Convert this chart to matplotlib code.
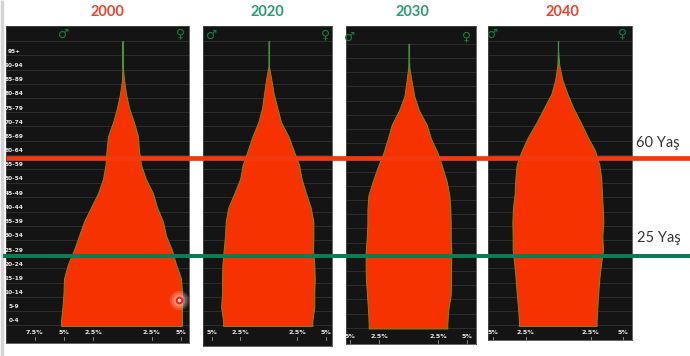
import numpy as np
import matplotlib
matplotlib.use("Agg")
import matplotlib.pyplot as plt

W, H = 690, 356

age_labels = ["0-4", "5-9", "10-14", "15-19", "20-24", "25-29", "30-34", "35-39", "40-44", "45-49",
              "50-54", "55-59", "60-64", "65-69", "70-74", "75-79", "80-84", "85-89", "90-94", "95+"]

male_2000 = [5.26, 5.13, 5.04, 5.00, 4.66, 4.15, 3.72, 3.29, 2.69, 2.09,
             1.67, 1.45, 1.37, 1.24, 0.81, 0.47, 0.21, 0.04, 0.01, 0.01]
female_2000 = [5.09, 5.09, 5.09, 5.00, 4.57, 4.23, 3.72, 3.46, 2.95, 2.60,
               2.00, 1.58, 1.41, 1.32, 0.98, 0.56, 0.30, 0.13, 0.01, 0.01]
male_2020 = [4.00, 4.18, 4.09, 4.09, 4.06, 3.95, 3.83, 3.77, 3.54, 3.01,
             2.51, 2.28, 1.84, 1.43, 0.91, 0.58, 0.41, 0.23, 0.01, 0.01]
female_2020 = [3.83, 4.00, 4.00, 4.04, 4.00, 3.89, 3.92, 3.92, 3.68, 3.27,
               2.89, 2.66, 2.19, 1.73, 1.08, 0.76, 0.44, 0.23, 0.01, 0.01]
male_2030 = [3.42, 3.48, 3.56, 3.65, 3.68, 3.68, 3.59, 3.53, 3.53, 3.45,
             3.08, 2.65, 2.17, 1.79, 1.45, 0.83, 0.37, 0.20, 0.04, 0.01]
female_2030 = [3.30, 3.39, 3.59, 3.62, 3.62, 3.65, 3.59, 3.59, 3.56, 3.48,
               3.25, 2.88, 2.48, 1.91, 1.54, 0.88, 0.48, 0.26, 0.06, 0.01]
male_2040 = [3.00, 3.08, 3.18, 3.26, 3.36, 3.49, 3.49, 3.51, 3.46, 3.33,
             3.28, 3.18, 2.79, 2.28, 1.64, 1.08, 0.51, 0.21, 0.05, 0.01]
female_2040 = [2.97, 3.03, 3.10, 3.18, 3.31, 3.46, 3.41, 3.49, 3.44, 3.38,
               3.33, 3.18, 2.85, 2.26, 1.74, 1.18, 0.72, 0.33, 0.10, 0.01]

panels = [
    dict(title="2000", tcol="#e8452c", tx=107, male=male_2000, female=female_2000,
         box=(6, 25.5, 189, 343), center=122.5, scale=11.7, y0=321, xl=333, sym=(64, 181, 34),
         ticks=[-7.5, -5, -2.5, 2.5, 5], ages=True),
    dict(title="2020", tcol="#2a9a70", tx=267, male=male_2020, female=female_2020,
         box=(203, 25.5, 332, 346), center=268.7, scale=11.4, y0=321, xl=333, sym=(212, 326, 35),
         ticks=[-5, -2.5, 2.5, 5], ages=False),
    dict(title="2030", tcol="#2a9a70", tx=412, male=male_2030, female=female_2030,
         box=(346, 26, 476, 344), center=408.7, scale=11.7, y0=323.5, xl=336, sym=(350, 467, 37),
         ticks=[-5, -2.5, 2.5, 5], ages=False),
    dict(title="2040", tcol="#e8452c", tx=562, male=male_2040, female=female_2040,
         box=(488, 25.5, 632, 340), center=558, scale=13.0, y0=321, xl=333, sym=(493, 623, 34),
         ticks=[-5, -2.5, 2.5, 5], ages=False),
]

STEP = 14.2
plt.rcParams["font.family"] = ["Lato", "DejaVu Sans"]
fig = plt.figure(figsize=(W / 100, H / 100), dpi=100, facecolor="white")

band = np.arange(len(age_labels), dtype=float)
ypos = np.r_[-0.35, band, 19.7]

for p in panels:
    l, t, r, b = p["box"]
    ax = fig.add_axes([l / W, 1 - b / H, (r - l) / W, (b - t) / H], facecolor="#141414")
    ax.set_xlim((l - p["center"]) / p["scale"], (r - p["center"]) / p["scale"])
    ax.set_ylim((p["y0"] - b) / STEP, (p["y0"] - t) / STEP)
    for s in ax.spines.values():
        s.set_color("#4a4a4a")
        s.set_linewidth(0.6)
    ax.set_xticks([])
    ax.set_yticks([])
    ax.hlines(np.arange(-0.3, 20, 1.0), *ax.get_xlim(), color="#2e2e2e", lw=0.7, zorder=1)
    m = np.array(p["male"])
    f = np.array(p["female"])
    ax.fill_betweenx(ypos, -np.r_[m[0], m, m[-1]], np.r_[f[0], f, f[-1]],
                     facecolor="#f53200", edgecolor="#7d8a22", lw=0.7, zorder=2)
    ax.plot([0, 0], [band[-2], 19.7], color="#2f9a45", lw=0.8, zorder=3)
    for v in p["ticks"]:
        ly = (p["y0"] - p["xl"]) / STEP
        ax.text(v, ly, f"{abs(v):g}%", color="#e8e8e8", fontsize=4.6,
                fontweight="bold", ha="center", va="center", family="DejaVu Sans", zorder=4)
        ax.plot([v, v], [ly - 4 / STEP, ly - 7 / STEP], color="#bdbdbd", lw=0.5, zorder=4)
    if p["ages"]:
        for i, lab in enumerate(age_labels):
            ax.text((14 - p["center"]) / p["scale"], i, lab, color="#e8e8e8", fontsize=4.2,
                    fontweight="bold", ha="center", va="center", family="DejaVu Sans", zorder=4)
    x1, x2, ys = p["sym"]
    ax.text((x1 - p["center"]) / p["scale"], (p["y0"] - ys) / STEP, "\u2642", color="#15803d",
            fontsize=9, ha="center", va="center", family="DejaVu Sans", zorder=4)
    ax.text((x2 - p["center"]) / p["scale"], (p["y0"] - ys) / STEP, "\u2640", color="#15803d",
            fontsize=9, ha="center", va="center", family="DejaVu Sans", zorder=4)
    fig.text(p["tx"] / W, 1 - 12 / H, p["title"], color=p["tcol"], fontsize=10.5,
             fontweight="bold", ha="center", va="center")

ov = fig.add_axes([0, 0, 1, 1], facecolor="none", zorder=10)
ov.set_xlim(0, W)
ov.set_ylim(H, 0)
ov.axis("off")
ov.plot([2, 2], [0, H], color="#d4d4d8", lw=2.5, solid_capstyle="butt", zorder=1)
ov.plot([6, W], [158, 158], color="#f4390f", lw=3.4, solid_capstyle="butt")
ov.plot([3, W], [256, 256], color="#0b7d55", lw=2.9, solid_capstyle="butt")
ov.text(658, 143, "60 Yaş", color="#333333", fontsize=10.5, ha="center", va="center")
ov.text(659, 238, "25 Yaş", color="#333333", fontsize=10.5, ha="center", va="center")
for size, alpha in [(200, 0.18), (130, 0.25), (70, 0.35)]:
    ov.scatter([179], [300], s=size, color="#ffc4bc", alpha=alpha, lw=0, zorder=5)
ov.scatter([179], [300], s=16, facecolor="#ffd9d2", edgecolor="#e8251a", lw=1.4, zorder=6)

fig.savefig("out.png", dpi=100)
